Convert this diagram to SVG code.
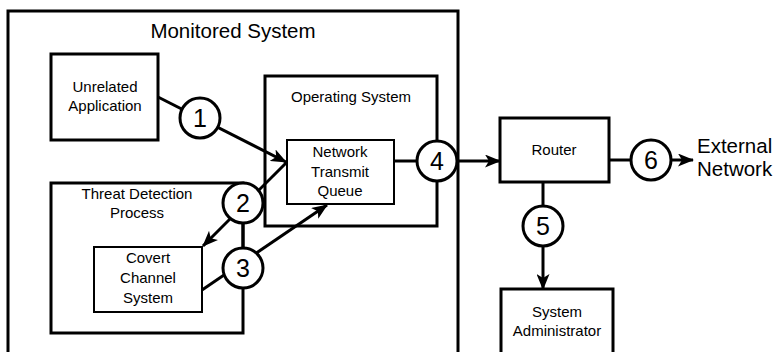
<svg xmlns="http://www.w3.org/2000/svg" width="778" height="352" viewBox="0 0 778 352">
<style>
.box{fill:#fff;stroke:#000;stroke-width:3}
.thin{fill:#fff;stroke:#000;stroke-width:2}
.ln{fill:none;stroke:#000;stroke-width:3}
.circ{fill:#fff;stroke:#000;stroke-width:3}
text{font-family:"Liberation Sans",Arial,sans-serif;fill:#000;text-anchor:middle}
.lbl{font-size:15px}
.num{font-size:25px}
.big{font-size:20.5px}
</style>
<defs>
<marker id="ah" viewBox="0 0 16 13" refX="15" refY="6.5" markerWidth="16" markerHeight="13" markerUnits="userSpaceOnUse" orient="auto">
<path d="M0,0 L16,6.5 L0,13 L4,6.5 z" fill="#000"/>
</marker>
</defs>
<rect width="778" height="352" fill="#fff"/>
<g id="monitored-system">
<rect class="box" x="8" y="11" width="450" height="360"/>
<text class="big" x="233" y="38">Monitored System</text>
</g>
<g id="unrelated-application">
<rect class="box" x="51" y="54" width="107" height="86"/>
<text class="lbl" x="105" y="92">Unrelated</text>
<text class="lbl" x="105" y="111">Application</text>
</g>
<g id="operating-system">
<rect class="box" x="265" y="76" width="172" height="150"/>
<text class="lbl" x="351" y="102">Operating System</text>
</g>
<g id="threat-detection-process">
<rect class="box" x="51" y="183" width="192" height="150"/>
<text class="lbl" x="137" y="199">Threat Detection</text>
<text class="lbl" x="137" y="218">Process</text>
</g>
<g id="network-transmit-queue">
<rect class="thin" x="287" y="140" width="107" height="64"/>
<text class="lbl" x="340" y="157">Network</text>
<text class="lbl" x="340" y="177">Transmit</text>
<text class="lbl" x="340" y="196">Queue</text>
</g>
<g id="covert-channel-system">
<rect class="thin" x="94" y="247" width="108" height="65"/>
<text class="lbl" x="148" y="263">Covert</text>
<text class="lbl" x="148" y="283">Channel</text>
<text class="lbl" x="148" y="303">System</text>
</g>
<g id="router">
<rect class="box" x="500" y="118" width="109" height="64"/>
<text class="lbl" x="554" y="155">Router</text>
</g>
<g id="system-administrator">
<rect class="box" x="501" y="289" width="112" height="80"/>
<text class="lbl" x="557" y="317">System</text>
<text class="lbl" x="557" y="336">Administrator</text>
</g>
<g id="external-network">
<text class="big" x="697" y="153" style="text-anchor:start">External</text>
<text class="big" x="697" y="176" style="text-anchor:start">Network</text>
</g>
<g id="connectors">
<line class="ln" x1="158" y1="97" x2="286" y2="162" marker-end="url(#ah)"/>
<line class="ln" x1="287" y1="162" x2="203" y2="246" marker-end="url(#ah)"/>
<line class="ln" x1="243" y1="222" x2="243" y2="248"/>
<line class="ln" x1="202" y1="290" x2="327" y2="205" marker-end="url(#ah)"/>
<line class="ln" x1="394" y1="161" x2="420" y2="161"/>
<line class="ln" x1="455" y1="161" x2="500" y2="161" marker-end="url(#ah)"/>
<line class="ln" x1="609" y1="160" x2="635" y2="160"/>
<line class="ln" x1="668" y1="160" x2="693" y2="160" marker-end="url(#ah)"/>
<line class="ln" x1="543" y1="182" x2="543" y2="210"/>
<line class="ln" x1="543" y1="244" x2="543" y2="289" marker-end="url(#ah)"/>
</g>
<g id="circle-1"><circle class="circ" cx="200" cy="118" r="20"/><text class="num" x="200" y="127">1</text></g>
<g id="circle-2"><circle class="circ" cx="243" cy="203" r="20"/><text class="num" x="243" y="212">2</text></g>
<g id="circle-3"><circle class="circ" cx="243" cy="268" r="20"/><text class="num" x="243" y="277">3</text></g>
<g id="circle-4"><circle class="circ" cx="437" cy="161" r="20"/><text class="num" x="437" y="170">4</text></g>
<g id="circle-5"><circle class="circ" cx="543" cy="226" r="20"/><text class="num" x="543" y="235">5</text></g>
<g id="circle-6"><circle class="circ" cx="651" cy="160" r="20"/><text class="num" x="651" y="169">6</text></g>
</svg>
